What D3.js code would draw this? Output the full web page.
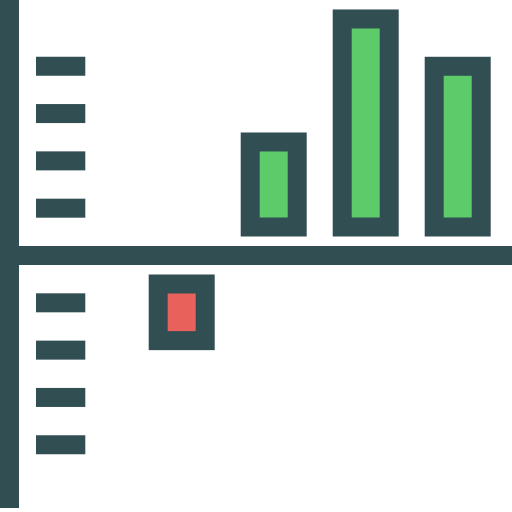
<!DOCTYPE html>
<html>
<head>
<meta charset="utf-8">
<script src="https://cdn.jsdelivr.net/npm/d3@7"></script>
<style>
  html, body { margin: 0; padding: 0; background: #fff; }
</style>
</head>
<body>
<div id="chart"></div>
<script>
var categories = ["A", "B", "C", "D"];
var values = [-2, 2.6, 5.2, 4.2];
var tickValues = [-4, -3, -2, -1, 1, 2, 3, 4];

var svgWidth = 512;
var svgHeight = 512;
var dark = "#314e53";
var green = "#5dcb69";
var red = "#e8625b";
var thick = 19;   // line weight of the icon
var gap = 9.5;    // space between axis and bars

var svg = d3.select("#chart")
    .append("svg")
    .attr("width", svgWidth)
    .attr("height", svgHeight)
    .style("display", "block");

var x = d3.scaleBand()
    .domain(categories)
    .range([148.7, 490.7])
    .paddingInner(0.2826)
    .paddingOuter(0);

var y = d3.scaleLinear()
    .domain([-5.4, 5.4])
    .range([511, 0]);

var y0 = y(0);

// tick marks on the left
svg.selectAll("rect.tick")
    .data(tickValues)
    .enter()
    .append("rect")
    .attr("class", "tick")
    .attr("x", 36)
    .attr("y", d => y(d) - thick / 2)
    .attr("width", 49.3)
    .attr("height", thick)
    .attr("fill", dark);

// bars: dark outer box, coloured inner box
var bars = svg.selectAll("g.bar")
    .data(values)
    .enter()
    .append("g")
    .attr("class", "bar");

function barTop(d) { return d > 0 ? y(d) : y0 + thick / 2 + gap; }
function barBottom(d) { return d > 0 ? y0 - thick / 2 - gap : y(d); }

bars.append("rect")
    .attr("x", (d, i) => x(categories[i]))
    .attr("y", d => barTop(d))
    .attr("width", x.bandwidth())
    .attr("height", d => barBottom(d) - barTop(d))
    .attr("fill", dark);

bars.append("rect")
    .attr("x", (d, i) => x(categories[i]) + thick)
    .attr("y", d => barTop(d) + thick)
    .attr("width", x.bandwidth() - 2 * thick)
    .attr("height", d => barBottom(d) - barTop(d) - 2 * thick)
    .attr("fill", d => d > 0 ? green : red);

// axes
svg.append("rect")
    .attr("x", 0)
    .attr("y", y0 - thick / 2)
    .attr("width", svgWidth)
    .attr("height", thick)
    .attr("fill", dark);

svg.append("rect")
    .attr("x", 0)
    .attr("y", 0)
    .attr("width", thick)
    .attr("height", 508)
    .attr("fill", dark);
</script>
</body>
</html>
